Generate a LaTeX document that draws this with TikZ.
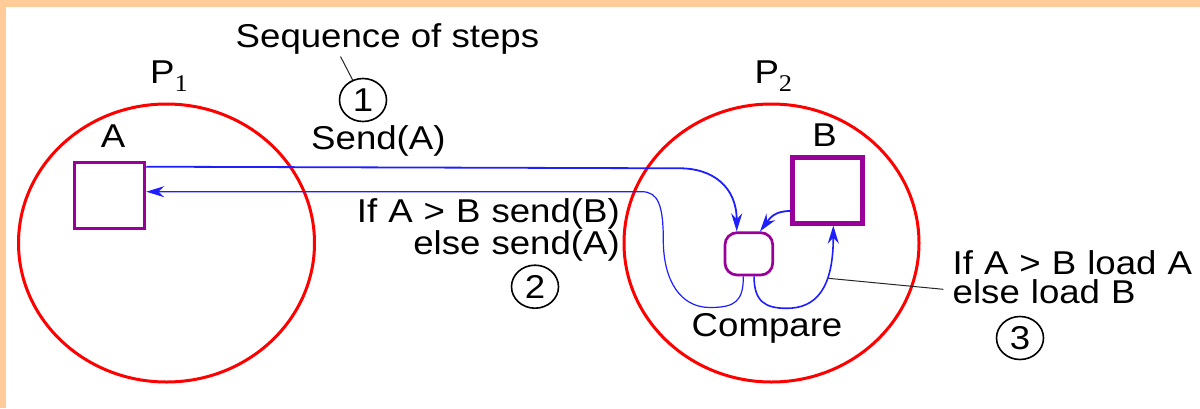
\documentclass[tikz,border=0pt]{standalone}
\usepackage{fontspec}
\setmainfont{Liberation Sans}[FakeStretch=1.11]
\newfontfamily\subfont{Liberation Serif}[FakeStretch=1.1]
\usetikzlibrary{arrows.meta,shapes.geometric,calc}
\definecolor{bandorange}{RGB}{255,204,153}
\definecolor{procred}{RGB}{255,0,0}
\definecolor{boxpurple}{RGB}{153,0,153}
\definecolor{flowblue}{RGB}{30,30,255}
\begin{document}
\begin{tikzpicture}[x=1pt,y=-1pt,
  lbl/.style={inner sep=0pt,font=\fontsize{33}{27.3}\selectfont},
  proc/.style={ellipse,draw=procred,line width=3pt,inner sep=0pt},
  stepnum/.style={ellipse,draw=black,line width=1.6pt,inner sep=0pt,minimum width=47pt,minimum height=43pt,font=\fontsize{33}{32}\selectfont},
  databox/.style={rectangle,draw=boxpurple,inner sep=0pt},
  cmpbox/.style={rectangle,draw=boxpurple,line width=2.7pt,rounded corners=12pt,minimum width=47.7pt,minimum height=42.3pt,inner sep=0pt},
  flow/.style={draw=flowblue,line width=1.6pt},
  arrowend/.style={-{Stealth[length=18pt,width=11pt]}},
  leader/.style={draw=black!85,line width=1pt}
]
\useasboundingbox (0,0) rectangle (1200,408);
\fill[bandorange] (0,0) rectangle (1200,6.7);
\fill[bandorange] (0,0) rectangle (6,408);

% processes
\node[proc,minimum width=296pt,minimum height=278pt] (p1) at (166.5,243) {};
\node[proc,minimum width=295pt,minimum height=278pt] (p2) at (771.5,243) {};
\node[lbl,anchor=base west] (p1lbl) at (150,83.3) {P\raisebox{-8.4pt}{\subfont\fontsize{24}{24}\selectfont 1}};
\node[lbl,anchor=base west] (p2lbl) at (754.3,83.3) {P\raisebox{-8.4pt}{\subfont\fontsize{24}{24}\selectfont 2}};

% data boxes
\node[databox,line width=3.2pt,minimum width=70pt,minimum height=65.6pt] (boxA) at (109.65,195.5) {};
\node[databox,line width=4.5pt,minimum width=70pt,minimum height=66pt] (boxB) at (827.7,190.3) {};
\node[lbl,anchor=base] (alabel) at (113,147) {A};
\node[lbl,anchor=base] (blabel) at (824.5,146.7) {B};
\node[cmpbox] (cmp) at (748.85,253.85) {};
\node[lbl,anchor=base west] (cmplbl) at (691.5,336.7) {Compare};

% texts and step numbers
\node[lbl,anchor=base west] (seq) at (235.5,47) {Sequence of steps};
\node[stepnum] (c1) at (363,100) {1};
\node[lbl,anchor=base west] (send) at (311,149.3) {Send(A)};
\node[lbl,anchor=base east,text width=270pt,align=right] (ret) at (620,222.7)
  {\lineskiplimit=-100pt If A > B send(B)\\ else send(A)};
\node[stepnum] (c2) at (535,286.7) {2};
\node[lbl,anchor=base west,text width=245pt,align=left,font=\fontsize{33}{28.5}\selectfont] (ld) at (952.5,274.5)
  {\lineskiplimit=-100pt If A > B load A\\ else load B};
\node[stepnum] (c3) at (1020,338) {3};

% leaders
\coordinate (seqtick) at (340.5,56.5);
\draw[leader] (seqtick) -- (c1);
\coordinate (l3a) at (828.3,278.3);
\coordinate (l3b) at (943.3,289.3);
\draw[leader] (l3a) -- (l3b);

% flows
\coordinate (sendbend) at (680,168.3);
\draw[flow,line width=1.8pt,arrowend] ($(boxA.north east)+(0,5.6)$) -- (sendbend)
  .. controls (712,168.3) and ($(cmp.north)+(-12.15,-45)$) .. ($(cmp.north)+(-12.15,0)$);
\draw[flow,line width=1.2pt,arrowend] ($(cmp.south)+(-5.5,0)$)
  .. controls +(0,25) and (735,307.5) .. (710,307.5)
  .. controls (680,307.5) and (663.3,280) .. (663.3,240)
  .. controls (663.3,205) and (658,191.7) .. (641.7,191.7)
  -- ($(boxA.east)+(0,-3.8)$);
\draw[flow,arrowend] ($(cmp.south)+(5.2,0)$)
  .. controls +(0,25) and (765,308.3) .. (786.7,308.3)
  .. controls (815,308.3) and (833.3,290) .. ($(boxB.south)+(5.6,0)$);
\draw[flow,line width=1.8pt,arrowend] ($(boxB.west)+(0,20.7)$)
  .. controls +(-16,0) and (770,218) .. ($(cmp.north)+(11.15,0)$);
\end{tikzpicture}
\end{document}
